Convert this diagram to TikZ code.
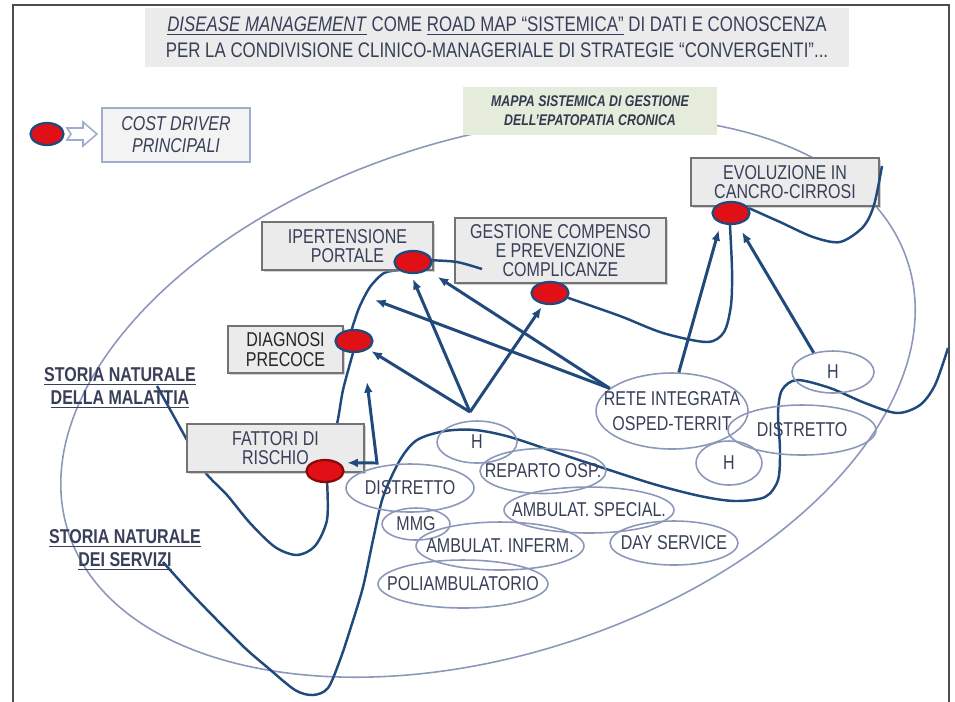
\documentclass[tikz,border=0pt]{standalone}
\usepackage{fontspec}
\setmainfont{Liberation Sans}[FakeStretch=0.8]
\usetikzlibrary{shapes.geometric,arrows.meta,shadows,backgrounds}
\definecolor{navy}{RGB}{33,74,124}
\definecolor{lilac}{RGB}{140,152,186}
\definecolor{slate}{RGB}{55,64,88}
\definecolor{boxgray}{RGB}{235,235,235}
\definecolor{boxline}{RGB}{115,115,115}
\definecolor{mapgreen}{RGB}{229,236,219}
\definecolor{cdred}{RGB}{225,16,22}
\definecolor{legline}{RGB}{160,172,205}
\newcommand{\px}[0]{0.02}
\newcommand{\drvfont}[0]{\fontsize{11.4}{11}\selectfont}
\newcommand{\ttlfont}[0]{\fontsize{12}{14.7}\selectfont}

\tikzset{
  driver/.style={shape=rectangle, draw=boxline, fill=boxgray, line width=1.2pt, align=center,
    text=slate, font=\drvfont, inner sep=0pt,
    drop shadow={shadow xshift=1.2pt, shadow yshift=-1.2pt, fill=black!35}},
  cost/.style={shape=ellipse, draw=navy, fill=cdred, line width=1.3pt,
    minimum width=0.74cm, minimum height=0.44cm, inner sep=0pt},
  srv/.style={shape=ellipse, draw=lilac, line width=0.9pt, inner sep=0pt,
    label={[text=slate, font=\drvfont, align=center]center:#1}},
  snake/.style={draw=navy, line width=1.4pt},
  arr/.style={->, draw=navy, line width=1.7pt, >={Latex[length=6pt,width=5pt]}},
}

\begin{document}
\begin{tikzpicture}[x=\px cm, y=-\px cm]
        \useasboundingbox (0,0) rectangle (955,701);
        \draw[line width=1.4pt, draw=black!70] (13,5) rectangle (949,708);

        % title and legend
        \node[fill=boxgray, minimum width=14.08cm, minimum height=1.18cm, align=center, text=slate, font=\ttlfont] (title) at (497,37.5)
            {\underline{\textit{DISEASE MANAGEMENT}} COME \underline{ROAD MAP “SISTEMICA”} DI DATI E CONOSCENZA\\PER LA CONDIVISIONE CLINICO-MANAGERIALE DI STRATEGIE “CONVERGENTI”...};
        \node[cost, minimum width=0.66cm] (legDot) at (47,134) {};
        \draw[draw=legline, line width=0.9pt, fill=white] (67,128) -- (83,128) -- (83,122) -- (97,134) -- (83,146) -- (83,140) -- (67,140) -- (71,134) -- cycle;
        \node[draw=legline, fill=boxgray!60, line width=1pt, minimum width=2.96cm, minimum height=1.08cm, align=center, text=slate,
            font=\fontsize{11.4}{12.5}\selectfont\itshape] (legend) at (176,135) {COST DRIVER\\PRINCIPALI};
        \node[fill=mapgreen, minimum width=5.08cm, minimum height=0.96cm, align=center, text=slate!90!black,
            font=\fontsize{8.8}{10.8}\selectfont\bfseries\itshape] (mappa) at (590,111) {MAPPA SISTEMICA DI GESTIONE\\DELL’EPATOPATIA CRONICA};

        % cost drivers
        \node[driver, minimum width=3.42cm, minimum height=0.96cm] (ipert) at (347.5,246) {IPERTENSIONE\\PORTALE};
        \node[driver, minimum width=4.22cm, minimum height=1.30cm] (gest) at (560.5,250.5) {GESTIONE COMPENSO\\E PREVENZIONE\\COMPLICANZE};
        \node[driver, minimum width=3.76cm, minimum height=0.96cm] (evol) at (785,182) {EVOLUZIONE IN\\CANCRO-CIRROSI};
        \node[driver, minimum width=2.30cm, minimum height=0.94cm, text=black!85] (diagn) at (285.5,349.5) {DIAGNOSI\\PRECOCE};
        \node[driver, minimum width=3.54cm, minimum height=0.96cm] (fatt) at (275.5,448) {FATTORI DI\\RISCHIO};

        \node[cost] (cdIper) at (413,262) {};
        \node[cost] (cdGest) at (550,293) {};
        \node[cost] (cdEvol) at (731,213) {};
        \node[cost] (cdDiag) at (354,341) {};
        \node[cost, draw=cdred!60!black] (cdFatt) at (325,471) {};

        \node[align=center, text=slate, font=\drvfont\bfseries] (stMal) at (120,388) {\underline{STORIA NATURALE}\\[2pt]\underline{DELLA MALATTIA}};
        \node[align=center, text=slate, font=\drvfont\bfseries] (stSer) at (125,550) {\underline{STORIA NATURALE}\\[2pt]\underline{DEI SERVIZI}};

        % services
        \node[srv=H, minimum width=1.6cm, minimum height=0.84cm] (hosp1) at (477,442) {};
        \node[srv={REPARTO OSP.}, minimum width=2.52cm, minimum height=0.90cm] (reparto) at (543,471) {};
        \node[srv=DISTRETTO, minimum width=2.56cm, minimum height=0.96cm] (distr1) at (410,488) {};
        \node[srv=MMG, minimum width=1.36cm, minimum height=0.64cm] (mmg) at (416,524) {};
        \node[srv={AMBULAT. SPECIAL.}, minimum width=3.4cm, minimum height=0.92cm] (ambSpec) at (589,510) {};
        \node[srv={AMBULAT. INFERM.}, minimum width=3.36cm, minimum height=0.96cm] (ambInf) at (500,546) {};
        \node[srv={DAY SERVICE}, minimum width=2.56cm, minimum height=0.88cm] (dayServ) at (674,543) {};
        \node[srv=POLIAMBULATORIO, minimum width=3.4cm, minimum height=0.96cm] (poliamb) at (463,584) {};
        \node[srv={RETE INTEGRATA\\[3pt]OSPED-TERRIT}, minimum width=3.04cm, minimum height=1.52cm] (rete) at (672,411) {};
        \node[srv=DISTRETTO, minimum width=2.96cm, minimum height=1.0cm] (distr2) at (802,430) {};
        \node[srv=H, minimum width=1.32cm, minimum height=0.88cm] (hosp2) at (729,463) {};
        \node[srv=H, minimum width=1.64cm, minimum height=0.84cm] (hosp3) at (833,372) {};

        \coordinate (hApex) at (470,412);
        \coordinate (ptDiag) at (375,300);
        \coordinate (ptElb) at (367,382);
        \coordinate (ptCorner) at (377,463);
        \coordinate (ptMal) at (157,386);
        \coordinate (ptSer) at (163,562);
        \coordinate (ptGes) at (482,269);
        \coordinate (ptEvo) at (882,166);
        \coordinate (ptEdge) at (948,348);

        % arrows into the drivers
        \draw[arr, shorten >=2pt] (hApex) -- (cdDiag.-30);
        \draw[arr, shorten >=3pt] (hApex) -- (cdIper.-100);
        \draw[arr, shorten >=2pt] (hApex) -- (cdGest.-120);
        \draw[arr] (rete.160) -- (ptDiag);
        \draw[arr, shorten >=7pt] (rete.160) -- (cdIper.-30);
        \draw[arr, shorten >=4pt] (rete.80) -- (cdEvol.-135);
        \draw[arr, shorten >=5pt] (hosp3.135) -- (cdEvol.-60);
        \draw[arr, <->, shorten >=4.5pt] (ptElb) -- (ptCorner) -- (cdFatt.30);

        % path of the disease, over the boxes
        \draw[snake] plot[smooth] coordinates {(cdIper.5) (457,262) (ptGes)};
        \draw[snake] plot[smooth] coordinates {(cdEvol.15) (780,222) (813,237) (840,242) (863,227) (874,205) (ptEvo)};

        \begin{pgfonlayer}{background}
        \draw[draw=lilac, line width=0.9pt, rotate around={17.8:(488,397)}] (488,397) ellipse [x radius=8.82cm, y radius=5.16cm];
        % path of the disease
        \draw[snake] plot[smooth] coordinates {(ptMal) (187,440) (205,472) (227,495) (250,523) (275,547) (297,555) (315,546) (327,520) (cdFatt.-80)};
        \draw[snake] plot[smooth] coordinates {(cdFatt) (337,424) (343,390) (cdDiag.-95)};
        \draw[snake] plot[smooth] coordinates {(cdDiag.100) (359,308) (370,287) (384,273) (cdIper.210)};
        \draw[snake] plot[smooth] coordinates {(cdGest.-15) (620,316) (663,333) (707,342) (724,332) (731,305) (732,270) (cdEvol.-95)};
        % path of the services
        \draw[snake] plot[smooth] coordinates {(ptSer) (190,592) (217,620) (245,648) (267,667) (295,690) (313,695) (328,688) (340,660) (350,630) (363,587) (373,540) (383,497) (400,460) (417,440) (445,431) (475,430) (510,437) (570,457) (650,483) (700,496) (735,501) (765,497) (778,480) (780,450) (778,413) (782,390) (797,380) (830,388) (865,403) (897,413) (920,405) (935,385) (ptEdge)};
        \end{pgfonlayer}
\end{tikzpicture}
\end{document}
